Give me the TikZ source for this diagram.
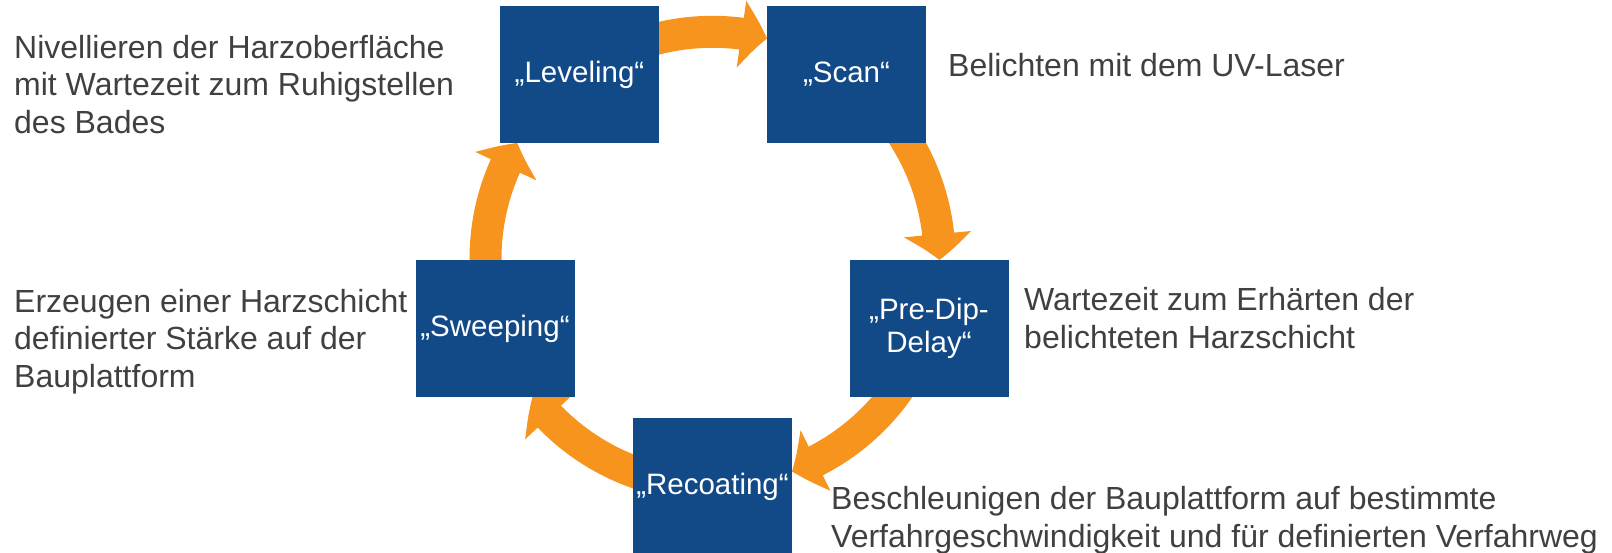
\documentclass[tikz,border=0pt]{standalone}
\usepackage{fontspec}
\setmainfont{Liberation Sans}
\usetikzlibrary{arrows.meta,bending}
\definecolor{boxblue}{RGB}{18,74,135}
\definecolor{arroworange}{RGB}{247,148,29}
\definecolor{notegray}{RGB}{64,64,64}

\begin{document}
\begin{tikzpicture}[x=1pt,y=1pt]
  \tikzstyle{phase}=[fill=boxblue,draw=none,minimum width=159pt,minimum height=137pt,inner sep=0pt,text=white,font=\fontsize{29.5}{33}\selectfont,align=center]
  \tikzstyle{note}=[anchor=base west,inner sep=0pt,text=notegray,font=\fontsize{32}{37.5}\selectfont,align=left]
  \tikzstyle{flow}=[draw=arroworange,line width=32pt,-{Triangle[width=66pt,length=26pt,bend]}]

  \useasboundingbox (0,0) rectangle (1612,-552);
  \coordinate (hub) at (712.5,-258.8);

  % circular arrows behind the boxes
  \draw[flow] (hub) ++(108:227) arc[start angle=108,end angle=76.1,radius=227];
  \draw[flow] (hub) ++(35:227) arc[start angle=35,end angle=-0.3,radius=227];
  \draw[flow] (hub) ++(-33:227) arc[start angle=-33,end angle=-69.5,radius=227];
  \draw[flow] (hub) ++(-106:227) arc[start angle=-106,end angle=-142.5,radius=227];
  \draw[flow] (hub) ++(184:227) arc[start angle=184,end angle=149.3,radius=227];

  \node[phase] (lev) at (579.5,-74.5) {„Leveling“};
  \node[phase] (scan) at (846.5,-74.5) {„Scan“};
  \node[phase] (dip) at (929,-328.5) {„Pre-Dip-\\Delay“};
  \node[phase] (recoat) at (712.5,-486.5) {„Recoating“};
  \node[phase] (sweep) at (495,-328.5) {„Sweeping“};

  \node[note] (levtext) at (14,-133) {Nivellieren der Harzoberfläche\\mit Wartezeit zum Ruhigstellen\\des Bades};
  \node[note] (scantext) at (948,-76.5) {Belichten mit dem UV-Laser};
  \node[note] (diptext) at (1024,-348) {Wartezeit zum Erhärten der\\belichteten Harzschicht};
  \node[note] (sweeptext) at (14,-387) {Erzeugen einer Harzschicht\\definierter Stärke auf der\\Bauplattform};
  \node[note] (recoattext) at (831,-547) {Beschleunigen der Bauplattform auf bestimmte\\Verfahrgeschwindigkeit und für definierten Verfahrweg};
\end{tikzpicture}
\end{document}
